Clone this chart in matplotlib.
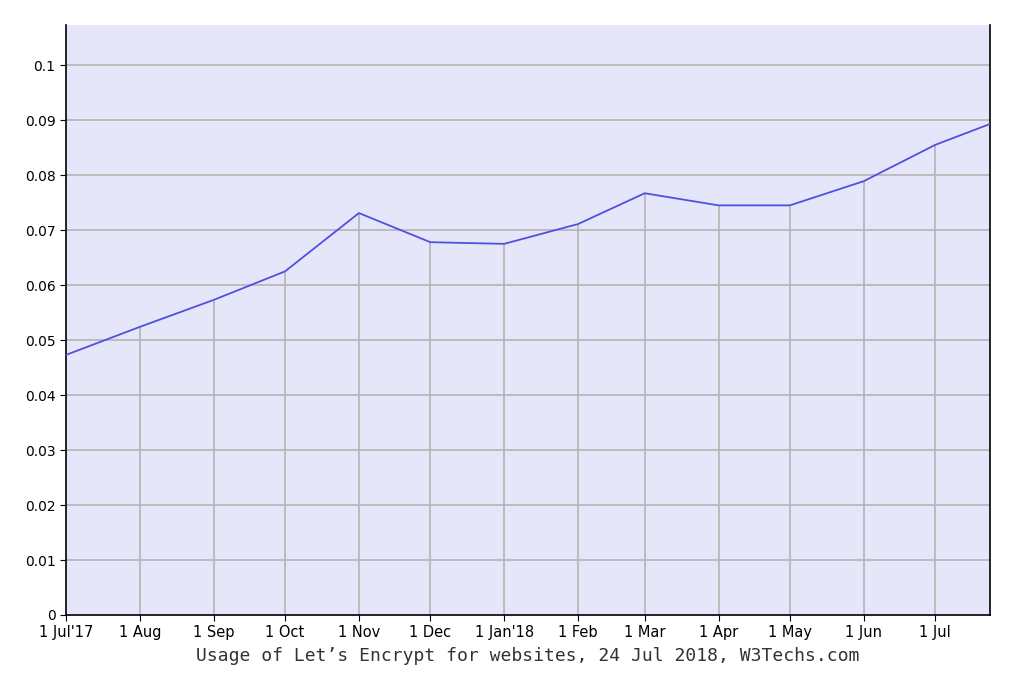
import matplotlib
matplotlib.use("Agg")
import matplotlib.pyplot as plt

days = [0, 31, 62, 92, 123, 153, 184, 215, 243, 274, 304, 335, 365, 388]
values = [0.0473, 0.0524, 0.0573, 0.0625, 0.0731, 0.0678, 0.0675, 0.0711,
          0.0767, 0.0745, 0.0745, 0.0789, 0.0855, 0.0893]
tick_days = days[:13]
tick_labels = ["1 Jul'17", "1 Aug", "1 Sep", "1 Oct", "1 Nov", "1 Dec", "1 Jan'18",
               "1 Feb", "1 Mar", "1 Apr", "1 May", "1 Jun", "1 Jul"]
yticks = [0, 0.01, 0.02, 0.03, 0.04, 0.05, 0.06, 0.07, 0.08, 0.09, 0.1]

fig = plt.figure(figsize=(10.24, 6.83), dpi=100)
ax = fig.add_axes([66/1024, 68/683, 924/1024, 590/683])
ax.set_facecolor("#e6e6fa")
ax.set_xlim(0, 388)
ax.set_ylim(0, 0.1073)
for y in yticks[1:]:
    ax.axhline(y, color="#b4b4b4", lw=1.2, zorder=1)
ax.vlines(days[1:13], 0, values[1:13], color="#b4b4b4", lw=1.2, zorder=1)
ax.plot(days, values, color="#5050e0", lw=1.3, zorder=3)
ax.set_xticks(tick_days)
ax.set_xticklabels(tick_labels, fontsize=10.5)
ax.set_yticks(yticks)
ax.set_yticklabels([f"{v:g}" for v in yticks], fontsize=10)
ax.tick_params(length=4, color="black")
ax.spines["top"].set_visible(False)
for s in ["left", "bottom", "right"]:
    ax.spines[s].set_color("black")
    ax.spines[s].set_linewidth(1.2)
ax.set_xlabel("Usage of Let\u2019s Encrypt for websites, 24 Jul 2018, W3Techs.com",
              fontsize=13, family="DejaVu Sans Mono", color="#333333", labelpad=5)
fig.savefig("out.png", dpi=100)
